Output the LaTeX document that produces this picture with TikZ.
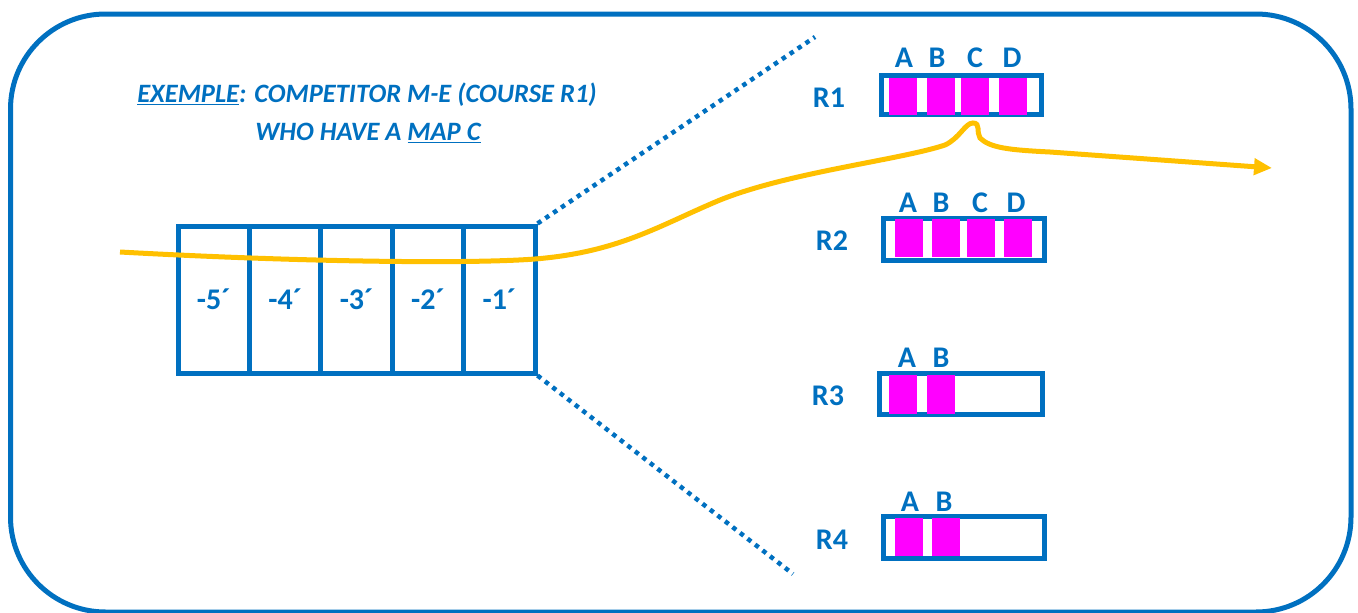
\documentclass[tikz,border=0pt]{standalone}
\usepackage{fontspec}
\setmainfont{Carlito}
\usetikzlibrary{arrows.meta}
\definecolor{bl}{HTML}{0070C0}
\definecolor{yl}{HTML}{FFC000}
\definecolor{mg}{HTML}{FF00FF}
\tikzset{
  frame/.style={draw=bl, line width=5pt},
  cell/.style={frame, minimum width=71.4pt, minimum height=147pt, inner sep=0pt, text=bl, font=\bfseries\fontsize{30}{32}\selectfont},
  bar/.style={frame, inner sep=0pt},
  mag/.style={fill=mg, inner sep=0pt, minimum width=28pt},
  lab/.style={text=bl, font=\bfseries\fontsize{30}{32}\selectfont, inner sep=0pt},
  title/.style={text=bl, font=\bfseries\itshape\fontsize{26.5}{30}\selectfont, inner sep=0pt},
  dots/.style={draw=bl, line width=4.5pt, dash pattern=on 4.5pt off 5pt},
  route/.style={draw=yl, line width=5pt, -{Triangle[length=18pt,width=16pt]}}
}
\begin{document}
\begin{tikzpicture}[x=1pt,y=-1pt]
\useasboundingbox (0,0) rectangle (1358,613);
\draw[frame, rounded corners=95pt] (10.5,14) rectangle (1351,612);

\node[title] (t1) at (367,95) {\underline{EXEMPLE}: COMPETITOR M-E (COURSE R1)};
\node[title] (t2) at (368,133) {WHO HAVE A \underline{MAP C}};

% left box
\node[cell] (c5) at (213.7,299.5) {-5´};
\node[cell] (c4) at (285.1,299.5) {-4´};
\node[cell] (c3) at (356.5,299.5) {-3´};
\node[cell] (c2) at (427.9,299.5) {-2´};
\node[cell] (c1) at (499.3,299.5) {-1´};

% dotted zoom lines
\coordinate (zt) at (815,37);
\coordinate (zb) at (793,574);
\draw[dots] (c1.north east) -- (zt);
\draw[dots] (c1.south east) -- (zb);

% R1
\node[bar, minimum width=160pt, minimum height=39pt] (b1) at (961,95) {};
\node[mag, minimum height=37pt] (m1a) at (903,96) {};
\node[mag, minimum height=37pt] (m1b) at (941,96) {};
\node[mag, minimum height=37pt] (m1c) at (975,96) {};
\node[mag, minimum height=37pt] (m1d) at (1012.5,96) {};
\node[lab] (l1a) at (904,58) {A};
\node[lab] (l1b) at (937,58) {B};
\node[lab] (l1c) at (975,58) {C};
\node[lab] (l1d) at (1012,58) {D};
\node[lab] (r1) at (829,98) {R1};

% R2
\node[bar, minimum width=161pt, minimum height=42pt] (b2) at (963.5,239) {};
\node[mag, minimum height=38pt] (m2a) at (909,238) {};
\node[mag, minimum height=38pt] (m2b) at (946,238) {};
\node[mag, minimum height=38pt] (m2c) at (981,238) {};
\node[mag, minimum height=38pt] (m2d) at (1018,238) {};
\node[lab] (l2a) at (908,203) {A};
\node[lab] (l2b) at (941,203) {B};
\node[lab] (l2c) at (980,203) {C};
\node[lab] (l2d) at (1016,203) {D};
\node[lab] (r2) at (832,241) {R2};

% R3
\node[bar, minimum width=163pt, minimum height=41pt] (b3) at (960.5,393.5) {};
\node[mag, minimum height=39pt] (m3a) at (903,394.5) {};
\node[mag, minimum height=39pt] (m3b) at (941,394.5) {};
\node[lab] (l3a) at (907,358) {A};
\node[lab] (l3b) at (941,358) {B};
\node[lab] (r3) at (828,396) {R3};

% R4
\node[bar, minimum width=161pt, minimum height=42pt] (b4) at (963.5,537) {};
\node[mag, minimum height=38pt] (m4a) at (909,537) {};
\node[mag, minimum height=38pt] (m4b) at (946,537) {};
\node[lab] (l4a) at (910,502) {A};
\node[lab] (l4b) at (944,502) {B};
\node[lab] (r4) at (832,540) {R4};

% route
\coordinate (rs) at (120,252);
\coordinate (re) at (1272,168);
\draw[route] (rs) .. controls (300,262) and (470,264) .. (535,259)
  .. controls (620,252) and (660,225) .. (720,200)
  .. controls (790,172) and (900,160) .. (945,145)
  .. controls (960,138) and (965,123) .. (973,123)
  .. controls (981,123) and (976,132) .. (980,138)
  .. controls (990,148) and (1010,150) .. (1050,152) -- (re);
\end{tikzpicture}
\end{document}
